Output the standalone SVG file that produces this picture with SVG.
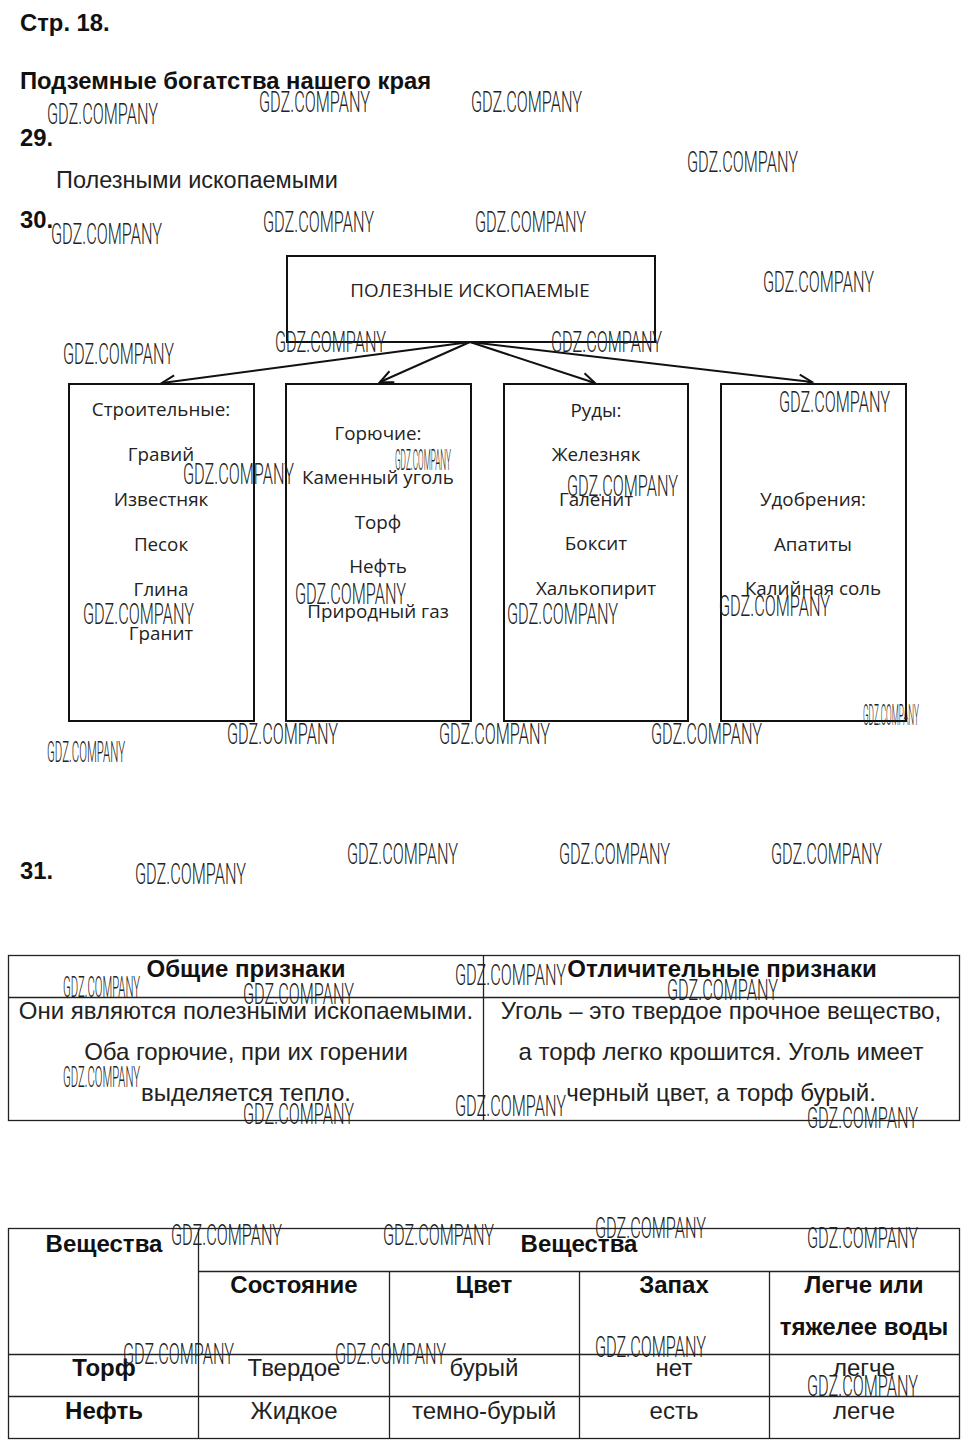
<svg xmlns="http://www.w3.org/2000/svg" width="971" height="1447" viewBox="0 0 971 1447">
<style>
.h{font-family:"Liberation Sans",Arial,sans-serif;font-weight:bold;font-size:23.8px;fill:#111}
.p{font-family:"Liberation Sans",Arial,sans-serif;font-size:23.5px;fill:#222}
.bx{fill:#fff;stroke:#111;stroke-width:2}
.bt{font-family:"Open Sans","Noto Sans",sans-serif;font-size:18.8px;fill:#222;text-anchor:middle}
.tl{stroke:#222;stroke-width:1.3;fill:none}
.th{font-family:"Liberation Sans",Arial,sans-serif;font-weight:bold;font-size:24px;fill:#111;text-anchor:middle}
.td{font-family:"Liberation Sans",Arial,sans-serif;font-size:24px;fill:#222;text-anchor:middle}
.wm{font-family:Roboto,"DejaVu Sans Condensed",sans-serif;font-weight:300;font-size:30px;fill:#222}
.cn{stroke:#111;stroke-width:2;fill:none}
</style>
<defs>
<marker id="arr" markerUnits="userSpaceOnUse" markerWidth="20" markerHeight="20" refX="0" refY="0" viewBox="-14 -10 16 20" orient="auto">
<path d="M-13,-6 L0,0 L-13,6" fill="none" stroke="#111" stroke-width="2"/>
</marker>
</defs>
<rect width="971" height="1447" fill="#fff"/>

<g id="headings">
<text class="h" x="20" y="31">Стр. 18.</text>
<text class="h" x="20" y="89">Подземные богатства нашего края</text>
<text class="h" x="20" y="146">29.</text>
<text class="p" x="56" y="188">Полезными ископаемыми</text>
<text class="h" x="20" y="228">30.</text>
<text class="h" x="20" y="879">31.</text>
</g>

<g id="connectors">
<line class="cn" x1="470" y1="342" x2="162" y2="383" marker-end="url(#arr)"/>
<line class="cn" x1="470" y1="342" x2="380" y2="382" marker-end="url(#arr)"/>
<line class="cn" x1="470" y1="342" x2="595" y2="383" marker-end="url(#arr)"/>
<line class="cn" x1="470" y1="342" x2="812" y2="382" marker-end="url(#arr)"/>
</g>

<g id="node-root">
<rect class="bx" x="287" y="256" width="368" height="86"/>
<text class="bt" x="470" y="297">ПОЛЕЗНЫЕ ИСКОПАЕМЫЕ</text>
</g>

<g id="node-build">
<rect class="bx" x="69" y="384" width="185" height="337"/>
<text class="bt" x="161" y="416">Строительные:</text>
<text class="bt" x="161" y="461">Гравий</text>
<text class="bt" x="161" y="506">Известняк</text>
<text class="bt" x="161" y="551">Песок</text>
<text class="bt" x="161" y="596">Глина</text>
<text class="bt" x="161" y="640">Гранит</text>
</g>

<g id="node-fuel">
<rect class="bx" x="286" y="384" width="185" height="337"/>
<text class="bt" x="378" y="440">Горючие:</text>
<text class="bt" x="378" y="484">Каменный уголь</text>
<text class="bt" x="378" y="529">Торф</text>
<text class="bt" x="378" y="573">Нефть</text>
<text class="bt" x="378" y="618">Природный газ</text>
</g>

<g id="node-ore">
<rect class="bx" x="504" y="384" width="184" height="337"/>
<text class="bt" x="596" y="417">Руды:</text>
<text class="bt" x="596" y="461">Железняк</text>
<text class="bt" x="596" y="506">Галенит</text>
<text class="bt" x="596" y="550">Боксит</text>
<text class="bt" x="596" y="595">Халькопирит</text>
</g>

<g id="node-fert">
<rect class="bx" x="721" y="384" width="185" height="337"/>
<text class="bt" x="813" y="506">Удобрения:</text>
<text class="bt" x="813" y="551">Апатиты</text>
<text class="bt" x="813" y="595">Калийная соль</text>
</g>

<g id="table-31">
<rect class="tl" x="8.5" y="955.5" width="951" height="165"/>
<line class="tl" x1="8" y1="997.5" x2="960" y2="997.5"/>
<line class="tl" x1="483.5" y1="955" x2="483.5" y2="1121"/>
<text class="th" x="246" y="977">Общие признаки</text>
<text class="th" x="722" y="977">Отличительные признаки</text>
<text class="td" x="246" y="1019">Они являются полезными ископаемыми.</text>
<text class="td" x="246" y="1060">Оба горючие, при их горении</text>
<text class="td" x="246" y="1101">выделяется тепло.</text>
<text class="td" x="721" y="1019">Уголь – это твердое прочное вещество,</text>
<text class="td" x="721" y="1060">а торф легко крошится. Уголь имеет</text>
<text class="td" x="721" y="1101">черный цвет, а торф бурый.</text>
</g>

<g id="table-2">
<rect class="tl" x="8.5" y="1228.5" width="951" height="210"/>
<line class="tl" x1="198.5" y1="1228" x2="198.5" y2="1439"/>
<line class="tl" x1="198" y1="1271.5" x2="960" y2="1271.5"/>
<line class="tl" x1="8" y1="1354.5" x2="960" y2="1354.5"/>
<line class="tl" x1="8" y1="1396.5" x2="960" y2="1396.5"/>
<line class="tl" x1="389.5" y1="1271" x2="389.5" y2="1439"/>
<line class="tl" x1="579.5" y1="1271" x2="579.5" y2="1439"/>
<line class="tl" x1="769.5" y1="1271" x2="769.5" y2="1439"/>
<text class="th" x="104" y="1252">Вещества</text>
<text class="th" x="579" y="1252">Вещества</text>
<text class="th" x="294" y="1293">Состояние</text>
<text class="th" x="484" y="1293">Цвет</text>
<text class="th" x="674" y="1293">Запах</text>
<text class="th" x="864" y="1293">Легче или</text>
<text class="th" x="864" y="1335">тяжелее воды</text>
<text class="th" x="104" y="1376">Торф</text>
<text class="td" x="294" y="1376">Твердое</text>
<text class="td" x="484" y="1376">бурый</text>
<text class="td" x="674" y="1376">нет</text>
<text class="td" x="864" y="1376">легче</text>
<text class="th" x="104" y="1419">Нефть</text>
<text class="td" x="294" y="1419">Жидкое</text>
<text class="td" x="484" y="1419">темно-бурый</text>
<text class="td" x="674" y="1419">есть</text>
<text class="td" x="864" y="1419">легче</text>
</g>

<g id="watermarks">
<text class="wm" x="47" y="124" textLength="111" lengthAdjust="spacingAndGlyphs">GDZ.COMPANY</text>
<text class="wm" x="259" y="112" textLength="111" lengthAdjust="spacingAndGlyphs">GDZ.COMPANY</text>
<text class="wm" x="471" y="112" textLength="111" lengthAdjust="spacingAndGlyphs">GDZ.COMPANY</text>
<text class="wm" x="687" y="172" textLength="111" lengthAdjust="spacingAndGlyphs">GDZ.COMPANY</text>
<text class="wm" x="51" y="244" textLength="111" lengthAdjust="spacingAndGlyphs">GDZ.COMPANY</text>
<text class="wm" x="263" y="232" textLength="111" lengthAdjust="spacingAndGlyphs">GDZ.COMPANY</text>
<text class="wm" x="475" y="232" textLength="111" lengthAdjust="spacingAndGlyphs">GDZ.COMPANY</text>
<text class="wm" x="763" y="292" textLength="111" lengthAdjust="spacingAndGlyphs">GDZ.COMPANY</text>
<text class="wm" x="63" y="364" textLength="111" lengthAdjust="spacingAndGlyphs">GDZ.COMPANY</text>
<text class="wm" x="275" y="352" textLength="111" lengthAdjust="spacingAndGlyphs">GDZ.COMPANY</text>
<text class="wm" x="551" y="352" textLength="111" lengthAdjust="spacingAndGlyphs">GDZ.COMPANY</text>
<text class="wm" x="779" y="412" textLength="111" lengthAdjust="spacingAndGlyphs">GDZ.COMPANY</text>
<text class="wm" x="183" y="484" textLength="111" lengthAdjust="spacingAndGlyphs">GDZ.COMPANY</text>
<text class="wm" x="395" y="470" font-size="14" textLength="56" lengthAdjust="spacingAndGlyphs">GDZ.COMPANY</text>
<text class="wm" x="567" y="496" textLength="111" lengthAdjust="spacingAndGlyphs">GDZ.COMPANY</text>
<text class="wm" x="295" y="604" textLength="111" lengthAdjust="spacingAndGlyphs">GDZ.COMPANY</text>
<text class="wm" x="83" y="624" textLength="111" lengthAdjust="spacingAndGlyphs">GDZ.COMPANY</text>
<text class="wm" x="507" y="624" textLength="111" lengthAdjust="spacingAndGlyphs">GDZ.COMPANY</text>
<text class="wm" x="719" y="616" textLength="111" lengthAdjust="spacingAndGlyphs">GDZ.COMPANY</text>
<text class="wm" x="863" y="725" font-size="13" textLength="56" lengthAdjust="spacingAndGlyphs">GDZ.COMPANY</text>
<text class="wm" x="227" y="744" textLength="111" lengthAdjust="spacingAndGlyphs">GDZ.COMPANY</text>
<text class="wm" x="439" y="744" textLength="111" lengthAdjust="spacingAndGlyphs">GDZ.COMPANY</text>
<text class="wm" x="651" y="744" textLength="111" lengthAdjust="spacingAndGlyphs">GDZ.COMPANY</text>
<text class="wm" x="47" y="762" font-size="19" textLength="78" lengthAdjust="spacingAndGlyphs">GDZ.COMPANY</text>
<text class="wm" x="135" y="884" textLength="111" lengthAdjust="spacingAndGlyphs">GDZ.COMPANY</text>
<text class="wm" x="347" y="864" textLength="111" lengthAdjust="spacingAndGlyphs">GDZ.COMPANY</text>
<text class="wm" x="559" y="864" textLength="111" lengthAdjust="spacingAndGlyphs">GDZ.COMPANY</text>
<text class="wm" x="771" y="864" textLength="111" lengthAdjust="spacingAndGlyphs">GDZ.COMPANY</text>
<text class="wm" x="63" y="997" font-size="16" textLength="77" lengthAdjust="spacingAndGlyphs">GDZ.COMPANY</text>
<text class="wm" x="243" y="1004" textLength="111" lengthAdjust="spacingAndGlyphs">GDZ.COMPANY</text>
<text class="wm" x="455" y="985" textLength="111" lengthAdjust="spacingAndGlyphs">GDZ.COMPANY</text>
<text class="wm" x="667" y="1000" textLength="111" lengthAdjust="spacingAndGlyphs">GDZ.COMPANY</text>
<text class="wm" x="63" y="1087" font-size="18" textLength="77" lengthAdjust="spacingAndGlyphs">GDZ.COMPANY</text>
<text class="wm" x="243" y="1124" textLength="111" lengthAdjust="spacingAndGlyphs">GDZ.COMPANY</text>
<text class="wm" x="455" y="1116" textLength="111" lengthAdjust="spacingAndGlyphs">GDZ.COMPANY</text>
<text class="wm" x="807" y="1128" textLength="111" lengthAdjust="spacingAndGlyphs">GDZ.COMPANY</text>
<text class="wm" x="171" y="1245" textLength="111" lengthAdjust="spacingAndGlyphs">GDZ.COMPANY</text>
<text class="wm" x="383" y="1245" textLength="111" lengthAdjust="spacingAndGlyphs">GDZ.COMPANY</text>
<text class="wm" x="595" y="1238" textLength="111" lengthAdjust="spacingAndGlyphs">GDZ.COMPANY</text>
<text class="wm" x="807" y="1248" textLength="111" lengthAdjust="spacingAndGlyphs">GDZ.COMPANY</text>
<text class="wm" x="123" y="1364" textLength="111" lengthAdjust="spacingAndGlyphs">GDZ.COMPANY</text>
<text class="wm" x="335" y="1364" textLength="111" lengthAdjust="spacingAndGlyphs">GDZ.COMPANY</text>
<text class="wm" x="595" y="1357" textLength="111" lengthAdjust="spacingAndGlyphs">GDZ.COMPANY</text>
<text class="wm" x="807" y="1396" textLength="111" lengthAdjust="spacingAndGlyphs">GDZ.COMPANY</text>
</g>
</svg>
